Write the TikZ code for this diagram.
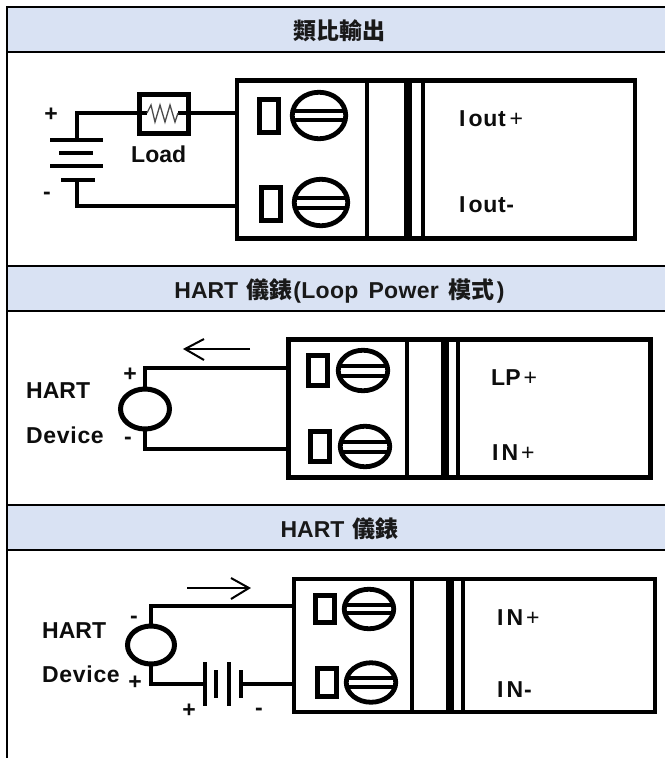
\documentclass[tikz,border=0pt]{standalone}
\usepackage{fontspec}
\setmainfont{Liberation Sans}
\newfontfamily\cjk{Noto Sans CJK TC}
\newcommand{\wider}{\addfontfeature{LetterSpace=3}}
\newcommand{\slightly}{\addfontfeature{LetterSpace=1.5}}
\usetikzlibrary{shapes.geometric}
\definecolor{headfill}{HTML}{D9E2F3}
\tikzset{
  rule/.style={line width=2pt,black},
  headband/.style={fill=headfill,draw=none},
  headtext/.style={font=\fontsize{23}{27}\selectfont\bfseries,anchor=base,inner sep=0pt,text=black!90},
  lab/.style={font=\fontsize{23}{27}\selectfont\bfseries,anchor=base west,inner sep=0pt,text=black!95},
  sign/.style={font=\fontsize{23}{27}\selectfont\bfseries,inner sep=0pt,text=black!95},
  wire/.style={line width=4pt,line join=miter,black},
  module/.style={draw,line width=4.7pt,rectangle,inner sep=0pt,outer sep=0pt},
  thindiv/.style={line width=3.3pt,black},
  thickdiv/.style={line width=8pt,black},
  term/.style={draw,line width=5pt,rectangle,inner sep=0pt,outer sep=0pt,minimum width=19pt,minimum height=33pt},
  screwhead/.style={draw,line width=4.8pt,ellipse,inner sep=0pt,outer sep=0pt,minimum width=53.5pt,minimum height=46.5pt},
  source/.style={draw,line width=5pt,ellipse,inner sep=0pt,outer sep=0pt},
  flow/.style={line width=2pt,black,line join=miter},
  plate/.style={line width=4.4pt,black},
}
\newcommand{\screwslot}[3]{% name, half gap, half chord
  \draw[line width=4pt] ([shift={(-#3,-#2)}]#1.center) -- ([shift={(#3,-#2)}]#1.center);
  \draw[line width=4pt] ([shift={(-#3,#2)}]#1.center) -- ([shift={(#3,#2)}]#1.center);
}
\begin{document}
\begin{tikzpicture}[x=1pt,y=-1pt]
\useasboundingbox (0,0) rectangle (665,758);
\fill[white] (0,0) rectangle (665,758);
% header bands
\fill[headband] (7,7) rectangle (665,52);
\fill[headband] (7,266) rectangle (665,311);
\fill[headband] (7,505) rectangle (665,550);
\draw[rule] (6,7) -- (665,7);
\draw[rule] (7,52) -- (665,52);
\draw[rule] (7,266) -- (665,266);
\draw[rule] (7,311) -- (665,311);
\draw[rule] (7,505) -- (665,505);
\draw[rule] (7,550) -- (665,550);
\draw[rule] (7,6) -- (7,758);
\node[headtext] (h1) at (339.5,39) {\cjk 類比輸出};
\node[headtext] (h2) at (339.5,298) {HART\kern8pt{\cjk 儀錶}\kern1pt{\slightly(Loop}\kern10pt{\slightly Power}\kern10pt{\cjk 模式}\kern2pt)};
\node[headtext] (h3) at (339.5,537) {HART\kern8pt{\cjk 儀錶}};

% ---------- panel 1
\node[module,minimum width=398pt,minimum height=158pt] (m1) at (436,159.5) {};
\draw[thindiv] (367,80) -- (367,239);
\draw[thickdiv] (408,80) -- (408,239);
\draw[thindiv] (423,80) -- (423,239);
\node[term] (t1a) at (268.5,116) {};
\node[term] (t1b) at (270.5,203.5) {};
\node[screwhead] (s1a) at (319,115.5) {};
\node[screwhead] (s1b) at (321,202.5) {};
\screwslot{s1a}{4.7}{25.5}
\screwslot{s1b}{5}{25.5}
% battery
\coordinate (b1) at (77,140);
\coordinate (b4) at (77,180);
\draw[plate] (50,140) -- (103,140);
\draw[plate] (59,153) -- (93,153);
\draw[plate] (50,166) -- (103,166);
\draw[plate] (61,180) -- (95,180);
% load
\node[draw,line width=5pt,rectangle,inner sep=0pt,outer sep=0pt,minimum width=49.5pt,minimum height=39.5pt] (load) at (164,114) {};
\draw[wire] (b1) |- (load.west |- 0,113);
\draw[wire] (load.east |- 0,113) -- (m1.west |- 0,113);
\draw[wire] (b4) |- (m1.west |- 0,206);
\draw[line width=4pt] (132,113) -- (147,113);
\draw[line width=4pt] (178,113) -- (196,113);
\draw[line width=1.3pt,black!70] (147,113) -- (151,105) -- (155,122) -- (160,105) -- (165,122) -- (170,105) -- (175,122) -- (178,113);
\node[lab] (loadt) at (131,162) {Load};
\node[sign] (p1) at (51,115) {+};
\node[sign] (n1) at (47,196) {-};
\node[lab] (l1a) at (459,126) {\wider I\kern3pt out\kern4pt{\mdseries+}};
\node[lab] (l1b) at (459,212) {\wider I\kern3pt out-};

% ---------- panel 2
\node[module,minimum width=362pt,minimum height=138pt] (m2) at (469.5,408.5) {};
\draw[thindiv] (407,340) -- (407,477);
\draw[thickdiv] (445,340) -- (445,477);
\draw[thindiv] (458,340) -- (458,477);
\node[term,minimum height=30.5pt] (t2a) at (318,370.5) {};
\node[term,minimum height=30.5pt] (t2b) at (320,446.5) {};
\node[screwhead,minimum width=49.5pt,minimum height=40.5pt] (s2a) at (363,370.5) {};
\node[screwhead,minimum width=49.5pt,minimum height=40.5pt] (s2b) at (365,446.5) {};
\screwslot{s2a}{5}{24}
\screwslot{s2b}{5}{24}
\node[source,minimum width=49pt,minimum height=40pt] (d2) at (145,409) {};
\draw[wire] (d2.north) |- (m2.west |- 0,368);
\draw[wire] (d2.south) |- (m2.west |- 0,449);
\coordinate (a2s) at (250,349);
\coordinate (a2t) at (185,349);
\coordinate (a2u) at (204,339);
\coordinate (a2d) at (204,360);
\draw[flow] (a2s) -- (a2t);
\draw[flow] (a2u) -- (a2t) -- (a2d);
\node[lab] (d2a) at (26,398) {HART};
\node[lab] (d2b) at (26,443) {\wider Device};
\node[sign] (p2) at (130,375) {+};
\node[sign] (n2) at (128,441) {-};
\node[lab] (l2a) at (491,385) {LP\kern3pt{\mdseries+}};
\node[lab] (l2b) at (492,460) {I\kern3pt N\kern3pt{\mdseries+}};

% ---------- panel 3
\node[module,minimum width=361pt,minimum height=133pt] (m3) at (474.5,645.5) {};
\draw[thindiv] (412,579) -- (412,712);
\draw[thickdiv] (450,579) -- (450,712);
\draw[thindiv] (463,579) -- (463,712);
\node[term,minimum height=27.5pt] (t3a) at (325,609) {};
\node[term,minimum height=28.5pt] (t3b) at (327,682.5) {};
\node[screwhead,minimum width=49.5pt,minimum height=39.5pt] (s3a) at (369,609) {};
\node[screwhead,minimum width=49.5pt,minimum height=39.5pt] (s3b) at (371,682.5) {};
\screwslot{s3a}{4.3}{24}
\screwslot{s3b}{4.3}{24}
\node[source,minimum width=47pt,minimum height=38pt] (d3) at (151,645) {};
\coordinate (c1) at (205,684);
\coordinate (c4) at (241,684);
\draw[wire] (d3.north) |- (m3.west |- 0,606);
\draw[wire] (d3.south) |- (c1);
\draw[wire] (c4) -- (m3.west |- 0,684);
\draw[plate] (205,662) -- (205,706);
\draw[plate] (216,670) -- (216,698);
\draw[plate] (229,662) -- (229,706);
\draw[plate] (241,670) -- (241,698);
\coordinate (a3s) at (187,588);
\coordinate (a3t) at (249,588);
\coordinate (a3u) at (231,578);
\coordinate (a3d) at (231,599);
\draw[flow] (a3s) -- (a3t);
\draw[flow] (a3u) -- (a3t) -- (a3d);
\node[lab] (d3a) at (42,638) {HART};
\node[lab] (d3b) at (42,682) {\wider Device};
\node[sign] (n3) at (134,620) {-};
\node[sign] (p3) at (135,683) {+};
\node[sign] (p3b) at (189,711) {+};
\node[sign] (n3b) at (259,712) {-};
\node[lab] (l3a) at (497,625) {I\kern3pt N\kern3pt{\mdseries+}};
\node[lab] (l3b) at (497,697) {I\kern3pt N\kern1pt-};
\end{tikzpicture}
\end{document}
